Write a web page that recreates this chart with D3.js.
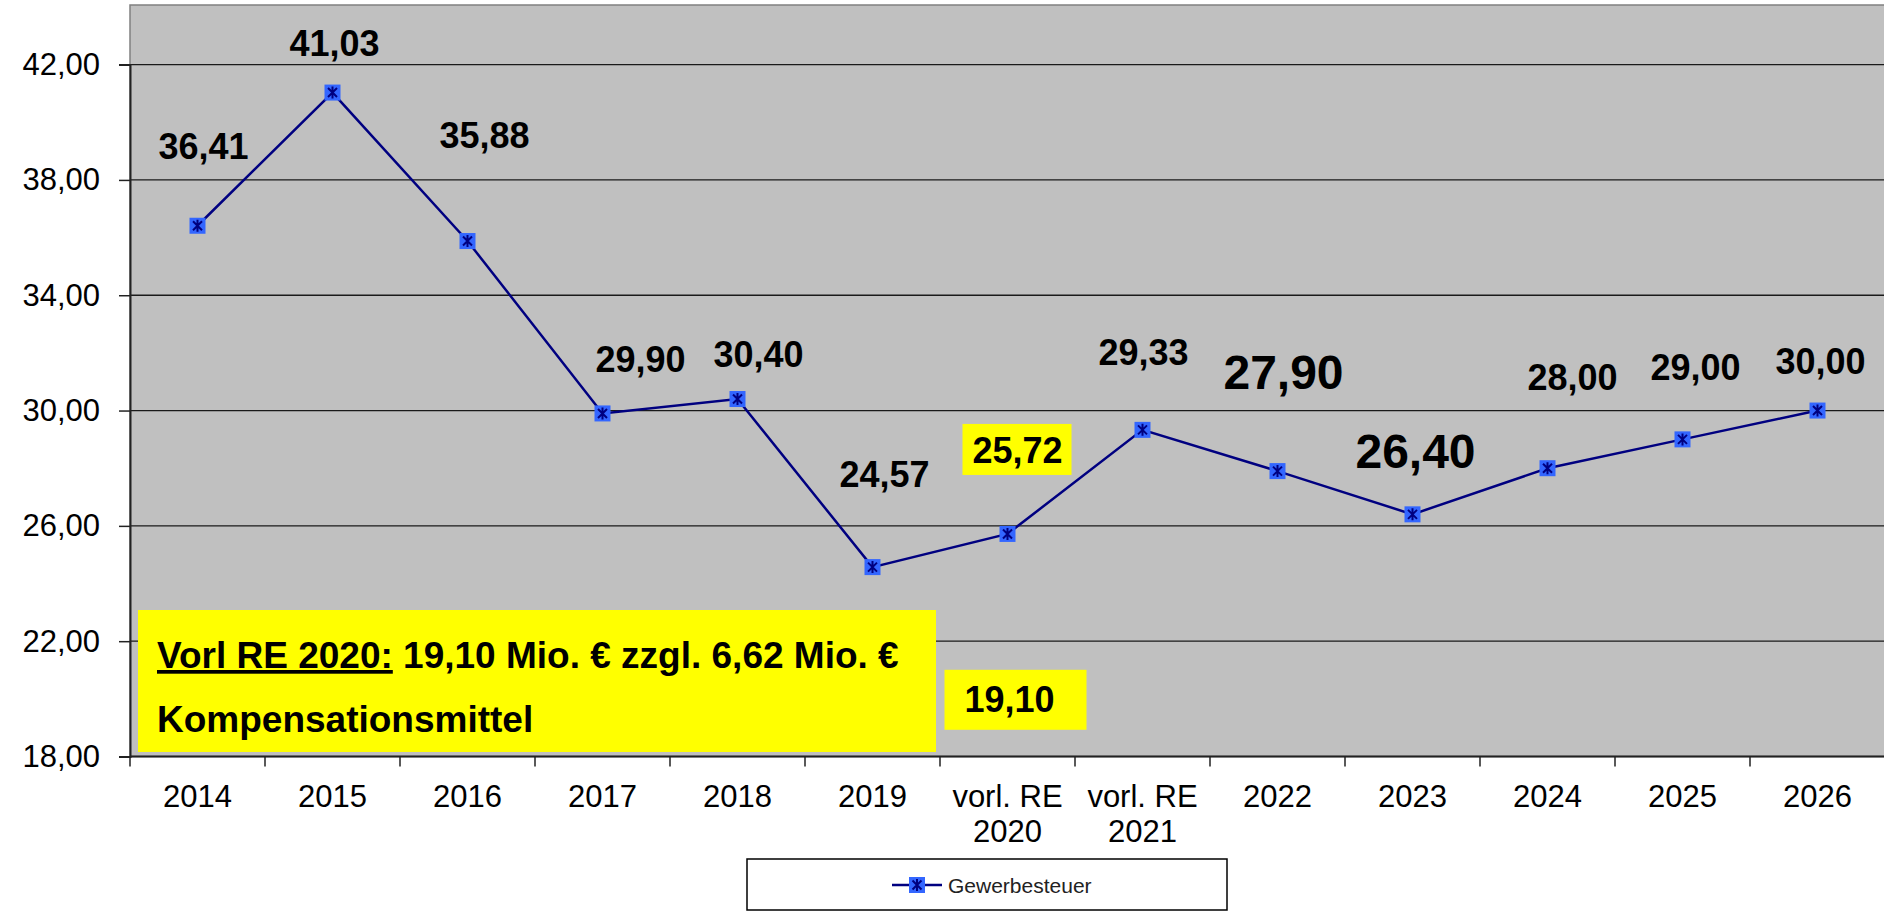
<!DOCTYPE html>
<html>
<head>
<meta charset="utf-8">
<script src="https://cdn.jsdelivr.net/npm/d3@7"></script>
<style>
  body { margin: 0; background: #fff; }
  text { font-family: "Liberation Sans", Arial, sans-serif; }
</style>
</head>
<body>
<div id="graph"></div>
<script>
// Gewerbesteuer in Mio. €
const categories = ["2014", "2015", "2016", "2017", "2018", "2019", "vorl. RE|2020", "vorl. RE|2021", "2022", "2023", "2024", "2025", "2026"];
const values = [36.41, 41.03, 35.88, 29.90, 30.40, 24.57, 25.72, 29.33, 27.90, 26.40, 28.00, 29.00, 30.00];
const yTicks = [18, 22, 26, 30, 34, 38, 42];
const seriesName = "Gewerbesteuer";
const compensationBase = 19.10;

// label placement (as dragged in the original), relative to each point
const labelOffsets = [[6, -67], [2, -37], [17, -93], [38, -41], [21, -32], [12, -80], [10, -71], [1, -65], [6, -82], [3, -46], [25, -78], [13, -59], [3, -37]];
const bigLabels = [8, 9];
const highlighted = [6];

const fmt = v => d3.format(".2f")(v).replace(".", ",");

let margin = { top: 5, left: 130 },
    width = 1885 - margin.left,
    height = 756.5 - margin.top;

let svg = d3.select("#graph")
    .append("svg")
    .attr("width", 1884)
    .attr("height", 911);

let g = svg.append("g")
    .attr("transform", "translate(" + margin.left + "," + margin.top + ")");

let x = d3.scaleBand()
    .domain(categories)
    .range([0, width])
    .padding(0);

let y = d3.scaleLinear()
    .domain([18, 42])
    .range([height, 64.6 - margin.top]);

// plot area
g.append("rect")
    .attr("width", width)
    .attr("height", height)
    .attr("fill", "#c0c0c0")
    .attr("stroke", "#808080")
    .attr("stroke-width", 1.5);

// gridlines
g.append("g")
    .selectAll("line")
    .data(yTicks.slice(1))
    .enter()
    .append("line")
    .attr("x1", 0)
    .attr("x2", width)
    .attr("y1", d => y(d))
    .attr("y2", d => y(d))
    .attr("stroke", "#1a1a1a")
    .attr("stroke-width", 1.3);

// y axis
let yAxis = g.append("g")
    .call(d3.axisLeft(y).tickValues(yTicks).tickFormat(fmt).tickSize(11).tickPadding(19));
yAxis.select(".domain").attr("stroke", "#222").attr("stroke-width", 2);
yAxis.selectAll(".tick line").attr("stroke", "#222").attr("stroke-width", 1.5);
yAxis.selectAll("text").attr("font-size", 31).attr("fill", "#000")
    .style("font-family", "'Liberation Sans', Arial, sans-serif");

// x axis
g.append("line")
    .attr("x1", 0).attr("x2", width)
    .attr("y1", height).attr("y2", height)
    .attr("stroke", "#222").attr("stroke-width", 2);

g.append("g")
    .selectAll("line")
    .data(categories)
    .enter()
    .append("line")
    .attr("x1", d => x(d))
    .attr("x2", d => x(d))
    .attr("y1", height)
    .attr("y2", height + 10)
    .attr("stroke", "#222")
    .attr("stroke-width", 1.5);

let xLabels = g.append("g")
    .selectAll("text")
    .data(categories)
    .enter()
    .append("text")
    .attr("text-anchor", "middle")
    .attr("font-size", 31)
    .attr("fill", "#000");
xLabels.each(function (d) {
    let lines = d.split("|");
    let t = d3.select(this);
    lines.forEach((l, i) => {
        t.append("tspan")
            .attr("x", x(d) + x.bandwidth() / 2)
            .attr("y", height + 50 + i * 35)
            .text(l);
    });
});

// line
let cx = (d, i) => x(categories[i]) + x.bandwidth() / 2;
g.append("path")
    .datum(values)
    .attr("fill", "none")
    .attr("stroke", "#000080")
    .attr("stroke-width", 2.5)
    .attr("d", d3.line().x(cx).y(d => y(d)));

function marker(sel) {
    sel.append("rect")
        .attr("x", -8).attr("y", -8)
        .attr("width", 16).attr("height", 16)
        .attr("fill", "#3366ff");
    sel.append("path")
        .attr("d", "M-4.5,-4.5L4.5,4.5M4.5,-4.5L-4.5,4.5M0,-6L0,6")
        .attr("stroke", "#000080")
        .attr("stroke-width", 2);
}

g.append("g")
    .selectAll("g")
    .data(values)
    .enter()
    .append("g")
    .attr("transform", (d, i) => "translate(" + cx(d, i) + "," + y(d) + ")")
    .call(marker);

// highlighted label backgrounds
highlighted.forEach(i => {
    let px = cx(values[i], i) + labelOffsets[i][0];
    let py = y(values[i]) + labelOffsets[i][1];
    g.append("rect")
        .attr("x", px - 55)
        .attr("y", py - 39)
        .attr("width", 109)
        .attr("height", 51)
        .attr("fill", "#ffff00");
});

// data labels
g.append("g")
    .selectAll("text")
    .data(values)
    .enter()
    .append("text")
    .attr("x", (d, i) => cx(d, i) + labelOffsets[i][0])
    .attr("y", (d, i) => y(d) + labelOffsets[i][1])
    .attr("text-anchor", "middle")
    .attr("font-weight", "bold")
    .attr("font-size", (d, i) => bigLabels.includes(i) ? 48 : 36)
    .attr("fill", "#000")
    .text(d => fmt(d));

// 19,10 box below the 2020 point
let bx = x(categories[6]) + x.bandwidth() / 2;
g.append("rect")
    .attr("x", bx - 63)
    .attr("y", y(compensationBase) - 55)
    .attr("width", 142)
    .attr("height", 60)
    .attr("fill", "#ffff00");
g.append("text")
    .attr("x", bx + 2)
    .attr("y", y(compensationBase) - 13)
    .attr("text-anchor", "middle")
    .attr("font-weight", "bold")
    .attr("font-size", 36)
    .text(fmt(compensationBase));

// big annotation
svg.append("rect")
    .attr("x", 138)
    .attr("y", 610)
    .attr("width", 798)
    .attr("height", 142)
    .attr("fill", "#ffff00");
let note = svg.append("text")
    .attr("x", 157)
    .attr("y", 668)
    .attr("font-weight", "bold")
    .attr("font-size", 37);
note.append("tspan")
    .attr("text-decoration", "underline")
    .text("Vorl RE 2020:");
note.append("tspan")
    .text(" 19,10 Mio. € zzgl. 6,62 Mio. €");
svg.append("text")
    .attr("x", 157)
    .attr("y", 732)
    .attr("font-weight", "bold")
    .attr("font-size", 37)
    .text("Kompensationsmittel");

// legend
let legend = svg.append("g");
legend.append("rect")
    .attr("x", 747)
    .attr("y", 859)
    .attr("width", 480)
    .attr("height", 51)
    .attr("fill", "#fff")
    .attr("stroke", "#000")
    .attr("stroke-width", 1.5);
legend.append("line")
    .attr("x1", 892).attr("x2", 942)
    .attr("y1", 885).attr("y2", 885)
    .attr("stroke", "#000080")
    .attr("stroke-width", 2.5);
legend.append("g")
    .attr("transform", "translate(917,885)")
    .call(marker);
legend.append("text")
    .attr("x", 948)
    .attr("y", 893)
    .attr("font-size", 21)
    .attr("fill", "#222")
    .text(seriesName);
</script>
</body>
</html>
